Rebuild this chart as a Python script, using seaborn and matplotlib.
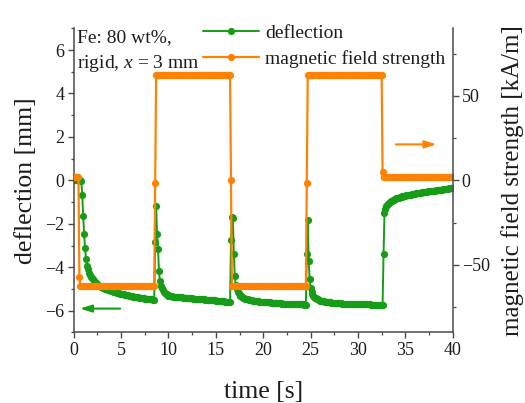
import numpy as np
import pandas as pd
import matplotlib
matplotlib.use("Agg")
import matplotlib.pyplot as plt
from matplotlib.ticker import MultipleLocator
import seaborn as sns

# sampling grid [s]
time_s = np.round(np.arange(401) * 0.1, 1)

# measured deflection [mm], one row per second (10 samples each)
deflection_mm = [
    0.00, 0.00, 0.00, 0.00, 0.00, 0.00, 0.00, 0.00, -0.05, -0.65,
    -1.65, -2.49, -3.13, -3.60, -3.92, -4.10, -4.24, -4.35, -4.43, -4.50,
    -4.56, -4.61, -4.66, -4.70, -4.74, -4.78, -4.81, -4.84, -4.87, -4.90,
    -4.92, -4.94, -4.96, -4.98, -5.00, -5.02, -5.03, -5.05, -5.06, -5.08,
    -5.10, -5.11, -5.12, -5.13, -5.14, -5.16, -5.17, -5.18, -5.19, -5.21,
    -5.22, -5.23, -5.24, -5.25, -5.26, -5.27, -5.28, -5.29, -5.30, -5.31,
    -5.33, -5.33, -5.34, -5.35, -5.36, -5.37, -5.37, -5.38, -5.39, -5.40,
    -5.41, -5.41, -5.42, -5.43, -5.43, -5.44, -5.44, -5.45, -5.45, -5.46,
    -5.47, -5.47, -5.48, -5.48, -5.49, -5.50, -2.83, -1.18, -2.49, -3.18,
    -4.18, -4.64, -4.85, -4.97, -5.06, -5.13, -5.18, -5.22, -5.25, -5.28,
    -5.30, -5.31, -5.32, -5.33, -5.34, -5.35, -5.35, -5.36, -5.36, -5.37,
    -5.38, -5.38, -5.39, -5.39, -5.39, -5.40, -5.40, -5.40, -5.41, -5.41,
    -5.42, -5.42, -5.42, -5.43, -5.43, -5.43, -5.44, -5.44, -5.44, -5.45,
    -5.46, -5.46, -5.46, -5.47, -5.47, -5.47, -5.48, -5.48, -5.48, -5.49,
    -5.49, -5.49, -5.50, -5.50, -5.50, -5.51, -5.51, -5.51, -5.52, -5.52,
    -5.53, -5.53, -5.53, -5.54, -5.54, -5.55, -5.55, -5.56, -5.56, -5.57,
    -5.58, -5.58, -5.59, -5.59, -5.60, -5.60, -2.76, -1.70, -1.75, -3.41,
    -4.41, -4.80, -5.00, -5.12, -5.20, -5.26, -5.30, -5.34, -5.37, -5.40,
    -5.42, -5.44, -5.45, -5.46, -5.47, -5.49, -5.50, -5.51, -5.52, -5.53,
    -5.55, -5.55, -5.56, -5.56, -5.57, -5.57, -5.58, -5.58, -5.59, -5.59,
    -5.60, -5.60, -5.61, -5.61, -5.61, -5.62, -5.62, -5.62, -5.63, -5.63,
    -5.64, -5.64, -5.64, -5.65, -5.65, -5.65, -5.65, -5.66, -5.66, -5.66,
    -5.67, -5.67, -5.67, -5.67, -5.68, -5.68, -5.68, -5.68, -5.68, -5.69,
    -5.69, -5.69, -5.69, -5.69, -5.70, -5.70, -5.70, -5.70, -5.70, -5.71,
    -5.71, -5.71, -5.71, -5.72, -5.72, -5.72, -3.37, -1.83, -3.69, -4.56,
    -4.95, -5.12, -5.22, -5.30, -5.35, -5.40, -5.43, -5.46, -5.48, -5.50,
    -5.53, -5.54, -5.55, -5.56, -5.57, -5.58, -5.59, -5.59, -5.60, -5.61,
    -5.62, -5.62, -5.63, -5.63, -5.64, -5.64, -5.64, -5.65, -5.65, -5.65,
    -5.66, -5.66, -5.66, -5.67, -5.67, -5.67, -5.68, -5.68, -5.68, -5.68,
    -5.69, -5.69, -5.69, -5.69, -5.69, -5.70, -5.70, -5.70, -5.70, -5.70,
    -5.70, -5.70, -5.70, -5.71, -5.71, -5.71, -5.71, -5.71, -5.71, -5.71,
    -5.71, -5.71, -5.71, -5.71, -5.72, -5.72, -5.72, -5.72, -5.72, -5.72,
    -5.72, -5.72, -5.72, -5.72, -5.72, -5.72, -5.72, -3.41, -1.49, -1.30,
    -1.20, -1.13, -1.08, -1.03, -0.99, -0.96, -0.93, -0.90, -0.88, -0.85,
    -0.83, -0.82, -0.80, -0.79, -0.78, -0.76, -0.75, -0.74, -0.73, -0.72,
    -0.70, -0.69, -0.68, -0.67, -0.66, -0.65, -0.65, -0.64, -0.63, -0.62,
    -0.61, -0.60, -0.59, -0.59, -0.58, -0.57, -0.56, -0.56, -0.55, -0.54,
    -0.53, -0.53, -0.52, -0.52, -0.51, -0.50, -0.50, -0.49, -0.49, -0.48,
    -0.47, -0.47, -0.46, -0.46, -0.45, -0.44, -0.44, -0.43, -0.43, -0.42,
    -0.41, -0.41, -0.40, -0.39, -0.39, -0.38, -0.37, -0.37, -0.36, -0.36,
    -0.35,
]

# applied field [kA/m]: level of each switching interval and its sample count
field_levels = [2.2, -57.0, -62.7, -1.8, 62.5, 0.2, -62.7, -1.8, 62.5, 5.1, 2.2]
field_samples = [6, 1, 79, 1, 79, 1, 79, 1, 79, 1, 74]
field_kAm = np.repeat(field_levels, field_samples)

df = pd.DataFrame({"time": time_s, "deflection": deflection_mm, "field": field_kAm})

GREEN = "#179c17"
ORANGE = "#ff8205"
AXC = "#4a4a4a"
TXT = "#1c1c1c"

sns.set_style("ticks")
plt.rcParams["font.family"] = ["Liberation Serif", "DejaVu Serif"]
plt.rcParams["mathtext.fontset"] = "custom"
plt.rcParams["mathtext.rm"] = "Liberation Serif"
plt.rcParams["mathtext.it"] = "Liberation Serif:italic"
plt.rcParams["axes.edgecolor"] = AXC
plt.rcParams["xtick.color"] = AXC
plt.rcParams["ytick.color"] = AXC
plt.rcParams["xtick.labelcolor"] = TXT
plt.rcParams["ytick.labelcolor"] = TXT

fig = plt.figure(figsize=(5.25, 4.03), dpi=100)
ax = fig.add_axes([0.1404, 0.175, 0.7219, 0.7548])
ax2 = ax.twinx()

sns.lineplot(data=df, x="time", y="deflection", ax=ax, color=GREEN,
             marker="o", markersize=5.2, markeredgewidth=0, linewidth=1.4,
             estimator=None, label="deflection", legend=False)
sns.lineplot(data=df, x="time", y="field", ax=ax2, color=ORANGE,
             marker="o", markersize=5.2, markeredgewidth=0, linewidth=1.6,
             estimator=None, label="magnetic field strength", legend=False)

ax.set_xlim(0, 40)
ax.set_ylim(-7, 7)
ax2.set_ylim(-90, 90)

ax.xaxis.set_major_locator(MultipleLocator(5))
ax.xaxis.set_minor_locator(MultipleLocator(2.5))
ax.yaxis.set_major_locator(MultipleLocator(2))
ax.yaxis.set_minor_locator(MultipleLocator(1))
ax2.yaxis.set_major_locator(MultipleLocator(50))
ax2.yaxis.set_minor_locator(MultipleLocator(25))

for a in (ax, ax2):
    a.tick_params(which="major", direction="out", length=4.5, width=1.0,
                  labelsize=13, pad=2)
    a.tick_params(which="minor", direction="out", length=2.5, width=0.9)
    a.spines["top"].set_visible(False)
    for s in a.spines.values():
        s.set_linewidth(1.1)
ax.spines["right"].set_visible(False)
ax2.spines["left"].set_visible(False)
ax2.spines["bottom"].set_visible(False)

ax.set_xlabel("time [s]", fontsize=18.5, color=TXT, labelpad=16)
ax.set_ylabel("deflection [mm]", fontsize=18.5, color=TXT, labelpad=6)
ax2.set_ylabel("magnetic field strength [kA/m]", fontsize=18, color=TXT,
               labelpad=8)

# sample description
ax.text(0.009, 0.998, "Fe: 80 wt%,\nrigid, $x$ = 3 mm", transform=ax.transAxes,
        ha="left", va="top", fontsize=14, color=TXT, linespacing=1.5)

# legend with both series
h1, l1 = ax.get_legend_handles_labels()
h2, l2 = ax2.get_legend_handles_labels()
leg = ax2.legend(h1 + h2, l1 + l2, loc="upper left",
                 bbox_to_anchor=(0.341, 1.013), frameon=False, fontsize=14,
                 handlelength=2.9, handletextpad=0.3, borderpad=0,
                 borderaxespad=0, labelspacing=0.42, numpoints=1)
for t in leg.get_texts():
    t.set_color(TXT)

# arrows pointing to the matching axis
ax.annotate("", xy=(0.65, -5.9), xytext=(4.9, -5.9),
            arrowprops=dict(arrowstyle="-|>,head_length=0.7,head_width=0.22",
                            color=GREEN, lw=1.5, shrinkA=0, shrinkB=0))
ax2.annotate("", xy=(38.3, 21.3), xytext=(34.0, 21.3),
             arrowprops=dict(arrowstyle="-|>,head_length=0.7,head_width=0.22",
                             color=ORANGE, lw=1.5, shrinkA=0, shrinkB=0))

fig.savefig("out.png", dpi=100)
